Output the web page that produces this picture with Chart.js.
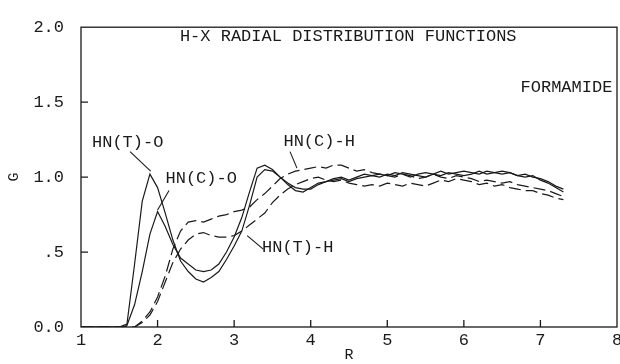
<!DOCTYPE html>
<html>
<head>
<meta charset="utf-8">
<script src="https://cdn.jsdelivr.net/npm/chart.js@4/dist/chart.umd.min.js"></script>
<style>
  html, body { margin: 0; padding: 0; background: #fff; }
  #wrap { width: 620px; height: 364px; }
</style>
</head>
<body>
<div id="wrap"><canvas id="rdfChart" width="620" height="364"></canvas></div>
<script>
// ========== DATA ==========
const rValues = [
    1.0, 1.1, 1.2, 1.3, 1.4, 1.5, 1.6, 1.7, 1.8, 1.9,
    2.0, 2.1, 2.2, 2.3, 2.4, 2.5, 2.6, 2.7, 2.8, 2.9,
    3.0, 3.1, 3.2, 3.3, 3.4, 3.5, 3.6, 3.7, 3.8, 3.9,
    4.0, 4.1, 4.2, 4.3, 4.4, 4.5, 4.6, 4.7, 4.8, 4.9,
    5.0, 5.1, 5.2, 5.3, 5.4, 5.5, 5.6, 5.7, 5.8, 5.9,
    6.0, 6.1, 6.2, 6.3, 6.4, 6.5, 6.6, 6.7, 6.8, 6.9,
    7.0, 7.1, 7.2, 7.3
];

const hntO = [
    0, 0, 0, 0, 0, 0, 0.02, 0.42, 0.84, 1.02,
    0.93, 0.76, 0.58, 0.44, 0.37, 0.32, 0.30, 0.33, 0.37, 0.45,
    0.54, 0.64, 0.81, 1.00, 1.05, 1.04, 1.00, 0.95, 0.91, 0.90,
    0.93, 0.96, 0.97, 0.99, 1.00, 0.98, 1.00, 1.02, 1.01, 1.02,
    1.01, 1.03, 1.02, 1.00, 1.02, 1.03, 1.02, 1.04, 1.02, 1.03,
    1.04, 1.03, 1.02, 1.04, 1.03, 1.02, 1.03, 1.01, 1.02, 1.00,
    0.99, 0.97, 0.94, 0.92
];

const hncO = [
    0, 0, 0, 0, 0, 0, 0.01, 0.15, 0.37, 0.62,
    0.77, 0.67, 0.55, 0.46, 0.42, 0.38, 0.37, 0.38, 0.42, 0.50,
    0.60, 0.73, 0.90, 1.06, 1.08, 1.05, 1.00, 0.96, 0.93, 0.92,
    0.92, 0.95, 0.97, 0.98, 0.99, 0.97, 0.99, 1.00, 1.01, 1.00,
    1.02, 1.01, 1.03, 1.02, 1.01, 1.00, 1.02, 1.01, 1.03, 1.02,
    1.01, 1.02, 1.04, 1.02, 1.03, 1.04, 1.03, 1.01, 1.00, 1.01,
    0.98, 0.96, 0.93, 0.90
];

const hncH = [
    0, 0, 0, 0, 0, 0, 0, 0, 0.04, 0.10,
    0.20, 0.34, 0.52, 0.64, 0.70, 0.71, 0.70, 0.72, 0.74, 0.75,
    0.77, 0.78, 0.80, 0.85, 0.89, 0.94, 0.99, 1.02, 1.04, 1.05,
    1.06, 1.07, 1.06, 1.08, 1.08, 1.06, 1.04, 1.05, 1.03, 1.02,
    1.01, 1.00, 1.02, 1.01, 0.99, 1.00, 1.02, 1.00, 0.99, 1.01,
    1.00, 0.99, 0.97, 0.98, 0.97, 0.96, 0.97, 0.95, 0.94, 0.93,
    0.92, 0.91, 0.89, 0.87
];

const hntH = [
    0, 0, 0, 0, 0, 0, 0, 0, 0.03, 0.08,
    0.17, 0.30, 0.43, 0.52, 0.58, 0.62, 0.63, 0.61, 0.60, 0.60,
    0.61, 0.64, 0.68, 0.72, 0.76, 0.83, 0.88, 0.92, 0.95, 0.97,
    0.99, 1.00, 0.98, 0.97, 0.98, 0.96, 0.95, 0.94, 0.95, 0.94,
    0.96, 0.95, 0.94, 0.96, 0.95, 0.94, 0.96, 0.98, 0.97, 0.99,
    0.98, 0.97, 0.95, 0.96, 0.94, 0.95, 0.93, 0.92, 0.91, 0.91,
    0.89, 0.88, 0.86, 0.85
];

const xTicks = [1, 2, 3, 4, 5, 6, 7, 8];
const yTicks = [0, 0.5, 1.0, 1.5, 2.0];
const yTickLabels = ['0.0', '.5', '1.0', '1.5', '2.0'];

const chartTitle = 'H-X RADIAL DISTRIBUTION FUNCTIONS';
const subTitle = 'FORMAMIDE';

// label text, text position (r, g), leader from -> to (r, g)
const curveLabels = [
    { text: 'HN(T)-O', at: [1.61, 1.23], from: [1.64, 1.17], to: [1.91, 1.04] },
    { text: 'HN(C)-O', at: [2.57, 0.99], from: [2.15, 0.91], to: [2.00, 0.78] },
    { text: 'HN(C)-H', at: [4.11, 1.24], from: [3.73, 1.17], to: [3.82, 1.06] },
    { text: 'HN(T)-H', at: [3.83, 0.53], from: [3.38, 0.52], to: [3.17, 0.61] }
];

// ========== HELPERS ==========
const INK = '#1a1a1a';
const FONT = '"Liberation Mono", "DejaVu Sans Mono", monospace';
const TEXT_SIZE = 17;

const toPoints = (ys) => rValues.map((r, i) => ({ x: r, y: ys[i] }));

const makeLine = (label, ys, dashed) => ({
    label: label,
    data: toPoints(ys),
    borderColor: INK,
    borderWidth: 1.2,
    borderDash: dashed ? [12, 5] : [],
    pointRadius: 0,
    tension: 0,
    fill: false
});

// frame, inward ticks and text annotations
const framePlugin = {
    id: 'frame',
    afterDatasetsDraw(chart) {
        const { ctx, chartArea: a, scales: { x, y } } = chart;
        ctx.save();
        ctx.strokeStyle = INK;
        ctx.lineWidth = 1.3;
        ctx.setLineDash([]);
        ctx.strokeRect(a.left, a.top, a.right - a.left, a.bottom - a.top);

        ctx.beginPath();
        xTicks.slice(1, -1).forEach(v => {
            const px = x.getPixelForValue(v);
            ctx.moveTo(px, a.bottom);
            ctx.lineTo(px, a.bottom - 7);
        });
        yTicks.slice(1, -1).forEach(v => {
            const py = y.getPixelForValue(v);
            ctx.moveTo(a.left, py);
            ctx.lineTo(a.left + 7, py);
        });
        ctx.stroke();

        ctx.fillStyle = INK;
        ctx.font = TEXT_SIZE + 'px ' + FONT;
        ctx.textAlign = 'center';
        ctx.textBaseline = 'middle';
        ctx.fillText(chartTitle, x.getPixelForValue(4.49), y.getPixelForValue(1.935));
        ctx.fillText(subTitle, x.getPixelForValue(7.34), y.getPixelForValue(1.60));

        ctx.lineWidth = 1.1;
        curveLabels.forEach(l => {
            ctx.fillText(l.text, x.getPixelForValue(l.at[0]), y.getPixelForValue(l.at[1]));
            ctx.beginPath();
            ctx.moveTo(x.getPixelForValue(l.from[0]), y.getPixelForValue(l.from[1]));
            ctx.lineTo(x.getPixelForValue(l.to[0]), y.getPixelForValue(l.to[1]));
            ctx.stroke();
        });
        ctx.restore();
    }
};

// ========== CHART ==========
const ctx = document.getElementById('rdfChart').getContext('2d');

new Chart(ctx, {
    type: 'line',
    data: {
        datasets: [
            makeLine('HN(T)-O', hntO, false),
            makeLine('HN(C)-O', hncO, false),
            makeLine('HN(C)-H', hncH, true),
            makeLine('HN(T)-H', hntH, true)
        ]
    },
    options: {
        responsive: false,
        animation: false,
        layout: { padding: { top: 18, right: 3, left: 0, bottom: 0 } },
        plugins: {
            legend: { display: false },
            tooltip: { enabled: false }
        },
        scales: {
            x: {
                type: 'linear',
                min: 1,
                max: 8,
                grid: { display: false, drawTicks: false },
                border: { display: false },
                afterFit: (scale) => {
                    scale.height = 37;
                    scale.paddingRight = 3;
                },
                ticks: {
                    stepSize: 1,
                    padding: 3,
                    color: INK,
                    font: { family: FONT, size: TEXT_SIZE },
                    maxRotation: 0
                },
                title: {
                    display: true,
                    text: 'R',
                    color: INK,
                    font: { family: FONT, size: 15 },
                    padding: { top: 0, bottom: 0 }
                }
            },
            y: {
                min: 0,
                max: 2,
                grid: { display: false, drawTicks: false },
                border: { display: false },
                afterFit: (scale) => { scale.width = 81; },
                ticks: {
                    stepSize: 0.5,
                    padding: 17,
                    color: INK,
                    font: { family: FONT, size: TEXT_SIZE },
                    callback: (v) => {
                        const i = yTicks.indexOf(v);
                        return i >= 0 ? yTickLabels[i] : '';
                    }
                },
                title: {
                    display: true,
                    text: 'G',
                    color: INK,
                    font: { family: FONT, size: 15 },
                    padding: { top: 5, bottom: 0 }
                }
            }
        }
    },
    plugins: [framePlugin]
});
</script>
</body>
</html>
